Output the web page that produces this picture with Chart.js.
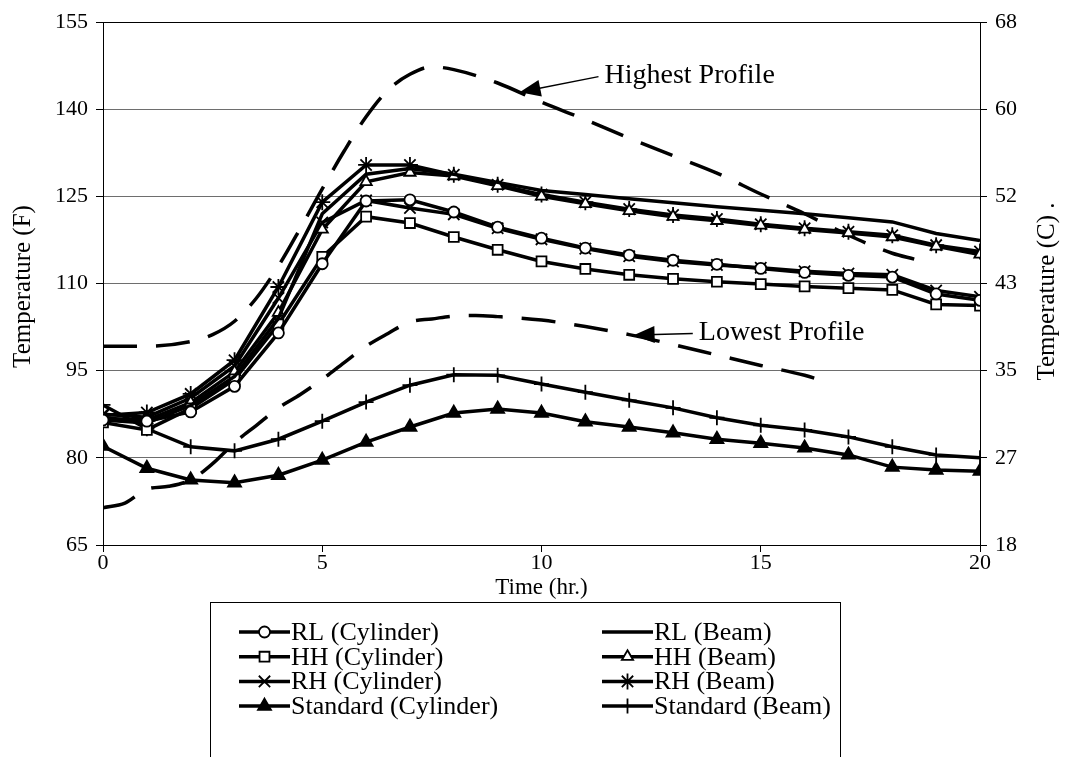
<!DOCTYPE html>
<html>
<head>
<meta charset="utf-8">
<script src="https://cdn.jsdelivr.net/npm/chart.js@4.4.1/dist/chart.umd.min.js"></script>
<style>
  html, body { margin: 0; padding: 0; background: #fff; }
</style>
</head>
<body>
<canvas id="chart" width="1065" height="757"></canvas>
<script>
// time axis (hours) for the measured series
const hours = [0, 1, 2, 3, 4, 5, 6, 7, 8, 9, 10, 11, 12, 13, 14, 15, 16, 17, 18, 19, 20];

// temperatures in F
const rlCylinder = [86.5, 86.3, 87.9, 92.3, 101.5, 113.4, 124.2, 124.4, 122.3, 119.7, 117.8, 116.1, 114.9, 114.0, 113.3, 112.6, 111.9, 111.4, 111.1, 108.2, 107.1];
const rlBeam = [86.5, 86.0, 89.0, 94.0, 104.0, 122.0, 128.8, 129.8, 128.8, 127.4, 126.0, 125.3, 124.6, 123.9, 123.2, 122.6, 122.0, 121.3, 120.6, 118.6, 117.4];
const hhCylinder = [86.1, 84.8, 88.5, 93.5, 103.0, 114.6, 121.5, 120.4, 118.0, 115.8, 113.8, 112.5, 111.5, 110.8, 110.3, 109.9, 109.5, 109.2, 108.9, 106.4, 106.2];
const hhBeam = [86.8, 86.5, 89.5, 94.8, 105.0, 119.3, 127.5, 129.1, 128.5, 126.8, 125.0, 123.7, 122.5, 121.5, 120.8, 120.0, 119.3, 118.7, 118.0, 116.4, 115.0];
const rhCylinder = [87.5, 87.0, 90.3, 95.8, 107.5, 120.5, 124.3, 123.0, 121.9, 119.5, 117.6, 116.0, 114.7, 113.8, 113.2, 112.7, 112.1, 111.7, 111.5, 108.8, 107.7];
const rhBeam = [87.3, 87.8, 91.0, 96.8, 109.4, 124.0, 130.4, 130.4, 128.7, 127.0, 125.3, 124.0, 122.8, 121.8, 121.1, 120.2, 119.5, 118.9, 118.3, 116.6, 115.5];
const stdCylinder = [82.0, 78.2, 76.2, 75.7, 77.0, 79.6, 82.7, 85.3, 87.7, 88.4, 87.7, 86.2, 85.3, 84.3, 83.2, 82.5, 81.7, 80.5, 78.4, 77.9, 77.7];
const stdBeam = [89.1, 85.0, 81.9, 81.2, 83.2, 86.3, 89.6, 92.5, 94.3, 94.2, 92.7, 91.3, 89.9, 88.6, 86.9, 85.6, 84.8, 83.6, 81.9, 80.5, 80.0];

// dashed envelope profiles
const highHours = [0, 1, 2, 2.5, 3, 3.5, 4, 4.5, 5, 5.5, 6, 6.5, 7, 7.5, 8, 9, 10, 11, 12, 13, 14, 15, 16, 17, 18, 18.5];
const highTemp = [99.2, 99.2, 100.0, 101.2, 103.5, 107.5, 113.0, 119.5, 126.3, 132.8, 138.7, 143.3, 146.0, 147.3, 146.8, 144.5, 141.2, 138.2, 135.0, 132.0, 129.0, 125.4, 122.0, 118.3, 115.2, 114.2];
const lowHours = [0, 0.5, 1, 1.5, 2, 2.5, 3, 3.5, 4, 4.5, 5, 5.5, 6, 6.5, 7, 7.5, 8, 8.5, 9, 10, 11, 12, 13, 14, 15, 16, 16.6];
const lowTemp = [71.4, 72.2, 74.6, 75.1, 76.2, 79.0, 82.6, 85.6, 88.6, 90.9, 93.5, 96.4, 99.2, 101.4, 103.4, 103.9, 104.4, 104.5, 104.3, 103.7, 102.6, 101.2, 99.5, 97.7, 95.9, 94.2, 92.8];

// axis ticks
const fTicks = [65, 80, 95, 110, 125, 140, 155];
const cTickLabels = ["18", "27", "35", "43", "52", "60", "68"];

const FONT = '"Liberation Serif", "Times New Roman", serif';

function pts(xs, ys) {
  return xs.map((x, i) => ({ x: x, y: ys[i] }));
}

function series(label, values, style, radius, fill) {
  return {
    label,
    data: pts(hours, values),
    borderColor: "#000",
    borderWidth: 3.5,
    pointStyle: style,
    pointRadius: style ? radius : 0,
    pointBorderWidth: 1.8,
    pointBorderColor: "#000",
    pointBackgroundColor: fill,
    tension: 0,
    inLegend: true,
  };
}

function profile(label, xs, ys) {
  return {
    label,
    data: pts(xs, ys),
    borderColor: "#000",
    borderWidth: 3.5,
    borderDash: [34, 19],
    pointRadius: 0,
    cubicInterpolationMode: "monotone",
    inLegend: false,
  };
}

const datasets = [
  series("RL (Cylinder)", rlCylinder, "circle", 5.5, "#fff"),
  series("RL (Beam)", rlBeam, false, 0, "#000"),
  series("HH (Cylinder)", hhCylinder, "rect", 7, "#fff"),
  series("HH (Beam)", hhBeam, "triangle", 6.5, "#fff"),
  series("RH (Cylinder)", rhCylinder, "crossRot", 8, "#000"),
  series("RH (Beam)", rhBeam, "star", 8, "#000"),
  series("Standard (Cylinder)", stdCylinder, "triangle", 7.5, "#000"),
  series("Standard (Beam)", stdBeam, "cross", 7.5, "#000"),
  profile("Highest Profile", highHours, highTemp),
  profile("Lowest Profile", lowHours, lowTemp),
];

// callouts, in data units: tail [hour, F] and arrow tip [hour, F]
const callouts = [
  { text: "Highest Profile", tail: [11.3, 145.6], tip: [9.5, 142.9] },
  { text: "Lowest Profile", tail: [13.45, 101.4], tip: [12.1, 101.1] },
];

function drawArrow(ctx, x1, y1, x2, y2) {
  const a = Math.atan2(y2 - y1, x2 - x1);
  const len = 21, half = 8.5;
  ctx.beginPath();
  ctx.moveTo(x1, y1);
  ctx.lineTo(x2 - Math.cos(a) * len * 0.6, y2 - Math.sin(a) * len * 0.6);
  ctx.lineWidth = 1.5;
  ctx.stroke();
  ctx.beginPath();
  ctx.moveTo(x2, y2);
  ctx.lineTo(x2 - Math.cos(a) * len + Math.sin(a) * half, y2 - Math.sin(a) * len - Math.cos(a) * half);
  ctx.lineTo(x2 - Math.cos(a) * len - Math.sin(a) * half, y2 - Math.sin(a) * len + Math.cos(a) * half);
  ctx.closePath();
  ctx.fill();
}

const decorations = {
  id: "decorations",
  beforeDatasetsDraw(chart) {
    const { ctx, chartArea: a } = chart;
    ctx.save();
    ctx.strokeStyle = "#000";
    ctx.lineWidth = 1;
    ctx.strokeRect(a.left + 0.5, a.top + 0.5, a.right - a.left, a.bottom - a.top);
    ctx.restore();
  },
  afterDraw(chart) {
    const { ctx, chartArea: a } = chart;
    const xs = chart.scales.x, ys = chart.scales.y;
    ctx.save();
    ctx.fillStyle = "#000";
    ctx.strokeStyle = "#000";

    // axis titles
    ctx.font = "25px " + FONT;
    ctx.textAlign = "center";
    ctx.textBaseline = "middle";
    ctx.save();
    ctx.translate(23, (a.top + a.bottom) / 2 + 3);
    ctx.rotate(-Math.PI / 2);
    ctx.fillText("Temperature (F)", 0, 0);
    ctx.restore();
    ctx.save();
    ctx.translate(1047, (a.top + a.bottom) / 2 + 8);
    ctx.rotate(-Math.PI / 2);
    ctx.fillText("Temperature (C) .", 0, 0);
    ctx.restore();
    ctx.font = "23px " + FONT;
    ctx.fillText("Time (hr.)", (a.left + a.right) / 2, 588);

    // callouts
    ctx.font = "28px " + FONT;
    ctx.textAlign = "left";
    callouts.forEach((c) => {
      const x1 = xs.getPixelForValue(c.tail[0]), y1 = ys.getPixelForValue(c.tail[1]);
      const x2 = xs.getPixelForValue(c.tip[0]), y2 = ys.getPixelForValue(c.tip[1]);
      drawArrow(ctx, x1, y1, x2, y2);
      ctx.fillText(c.text, x1 + 6, y1 - 1);
    });

    // legend box
    ctx.lineWidth = 1;
    ctx.strokeRect(210.5, 602.5, 630, 170);
    ctx.font = "26px " + FONT;
    ctx.textBaseline = "middle";
    const items = chart.data.datasets.filter((d) => d.inLegend);
    items.forEach((d, i) => {
      const row = Math.floor(i / 2), col = i % 2;
      const y = 632 + row * 24.7;
      const x0 = col === 0 ? 239 : 602;
      const x1 = x0 + 51;
      ctx.beginPath();
      ctx.moveTo(x0, y);
      ctx.lineTo(x1, y);
      ctx.lineWidth = 3.5;
      ctx.stroke();
      if (d.pointStyle) {
        ctx.fillStyle = d.pointBackgroundColor;
        ctx.lineWidth = 1.8;
        Chart.helpers.drawPoint(ctx, {
          pointStyle: d.pointStyle,
          radius: d.pointRadius,
          rotation: 0,
          borderWidth: 1.8,
        }, (x0 + x1) / 2, y);
      }
      ctx.fillStyle = "#000";
      ctx.fillText(d.label, x1 + 1, y + 1);
    });
    ctx.restore();
  },
};

new Chart(document.getElementById("chart"), {
  type: "line",
  data: { datasets },
  plugins: [decorations],
  options: {
    responsive: false,
    animation: false,
    layout: { padding: { top: 22, left: 0, right: 0, bottom: 0 } },
    plugins: {
      legend: { display: false },
      tooltip: { enabled: false },
    },
    scales: {
      x: {
        type: "linear",
        min: 0,
        max: 20,
        ticks: { stepSize: 5, color: "#000", font: { family: FONT, size: 22 }, padding: -2 },
        grid: { drawOnChartArea: false, tickLength: 7, color: "#000" },
        border: { color: "#000" },
        afterFit(s) { s.height = 212; },
      },
      y: {
        position: "left",
        min: 65,
        max: 155,
        afterBuildTicks(s) { s.ticks = fTicks.map((v) => ({ value: v })); },
        ticks: { color: "#000", font: { family: FONT, size: 22 }, padding: 8 },
        grid: { color: "#6e6e6e", tickColor: "#000", tickLength: 7 },
        border: { color: "#000" },
        afterFit(s) { s.width = 103; },
      },
      y2: {
        position: "right",
        min: 65,
        max: 155,
        afterBuildTicks(s) { s.ticks = fTicks.map((v) => ({ value: v })); },
        ticks: {
          color: "#000",
          font: { family: FONT, size: 22 },
          padding: 8,
          callback: (v, i) => cTickLabels[i],
        },
        grid: { drawOnChartArea: false, color: "#000", tickLength: 7 },
        border: { color: "#000" },
        afterFit(s) { s.width = 85; },
      },
    },
  },
});
</script>
</body>
</html>
